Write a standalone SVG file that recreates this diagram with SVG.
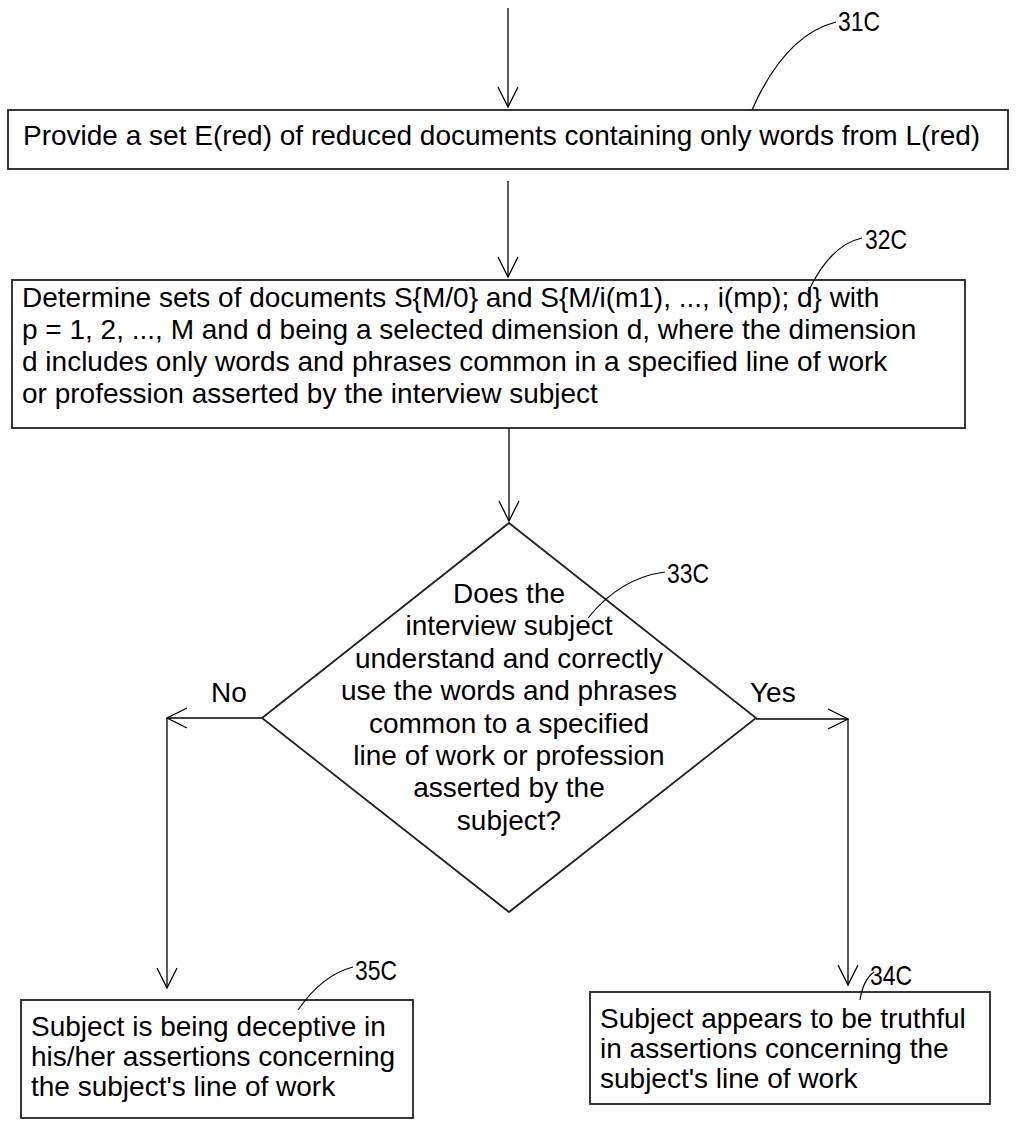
<svg xmlns="http://www.w3.org/2000/svg" width="1017" height="1121" viewBox="0 0 1017 1121">
<defs>
<style>
.box{fill:#fff;stroke:#222;stroke-width:1.8}
.t{font-family:"Liberation Sans",Arial,sans-serif;font-size:28px;fill:#000}
.c{text-anchor:middle}
.lbl{font-family:"Liberation Sans",Arial,sans-serif;font-size:28px;fill:#000}
.ln{fill:none;stroke:#000;stroke-width:1.3}
.ld{fill:none;stroke:#000;stroke-width:1.2}
</style>
<marker id="ah" markerWidth="24" markerHeight="24" viewBox="-22 -12 24 24" refX="0" refY="0" orient="auto" markerUnits="userSpaceOnUse">
<path d="M-20,-10 L0,0 L-20,10" fill="none" stroke="#000" stroke-width="1.3"/>
</marker>
</defs>
<rect width="1017" height="1121" fill="#fff"/>
<g id="connectors">
<line class="ln" x1="508" y1="8" x2="508" y2="107" marker-end="url(#ah)"/>
<line class="ln" x1="508" y1="181" x2="508" y2="277" marker-end="url(#ah)"/>
<line class="ln" x1="509" y1="428" x2="509" y2="521" marker-end="url(#ah)"/>
<line class="ln" x1="262" y1="718" x2="167" y2="718" marker-end="url(#ah)"/>
<line class="ln" x1="167" y1="718" x2="167" y2="988" marker-end="url(#ah)"/>
<line class="ln" x1="756" y1="719" x2="848" y2="719" marker-end="url(#ah)"/>
<line class="ln" x1="848" y1="719" x2="848" y2="985" marker-end="url(#ah)"/>
<text class="t" x="211" y="702">No</text>
<text class="t" x="750" y="702">Yes</text>
</g>
<g id="n31C">
<rect class="box" x="8" y="110" width="1000" height="59"/>
<text class="t" x="23" y="145">Provide a set E(red) of reduced documents containing only words from L(red)</text>
<path class="ld" d="M752,110 Q785,35 836,22"/>
<text class="lbl" x="838" y="31" textLength="42" lengthAdjust="spacingAndGlyphs">31C</text>
</g>
<g id="n32C">
<rect class="box" x="12" y="280" width="953" height="148"/>
<text class="t" x="22" y="307">Determine sets of documents S{M/0} and S{M/i(m1), ..., i(mp); d} with</text>
<text class="t" x="22" y="339">p = 1, 2, ..., M and d being a selected dimension d, where the dimension</text>
<text class="t" x="22" y="371">d includes only words and phrases common in a specified line of work</text>
<text class="t" x="22" y="403">or profession asserted by the interview subject</text>
<path class="ld" d="M808,292 Q830,245 862,238"/>
<text class="lbl" x="865" y="249" textLength="42" lengthAdjust="spacingAndGlyphs">32C</text>
</g>
<g id="n33C">
<polygon class="box" points="509,523 756,718 509,912 262,718"/>
<text class="t c" x="509" y="603">Does the</text>
<text class="t c" x="509" y="635">interview subject</text>
<text class="t c" x="509" y="668">understand and correctly</text>
<text class="t c" x="509" y="700">use the words and phrases</text>
<text class="t c" x="509" y="733">common to a specified</text>
<text class="t c" x="509" y="765">line of work or profession</text>
<text class="t c" x="509" y="797">asserted by the</text>
<text class="t c" x="509" y="830">subject?</text>
<path class="ld" d="M588,618 Q620,578 665,572"/>
<text class="lbl" x="667" y="583" textLength="42" lengthAdjust="spacingAndGlyphs">33C</text>
</g>
<g id="n35C">
<rect class="box" x="21" y="1000" width="392" height="118"/>
<text class="t" x="31" y="1036">Subject is being deceptive in</text>
<text class="t" x="31" y="1066">his/her assertions concerning</text>
<text class="t" x="31" y="1096">the subject's line of work</text>
<path class="ld" d="M298,1010 Q322,975 353,967"/>
<text class="lbl" x="355" y="980" textLength="42" lengthAdjust="spacingAndGlyphs">35C</text>
</g>
<g id="n34C">
<rect class="box" x="590" y="992" width="400" height="112"/>
<text class="t" x="600" y="1028">Subject appears to be truthful</text>
<text class="t" x="600" y="1058">in assertions concerning the</text>
<text class="t" x="600" y="1088">subject's line of work</text>
<path class="ld" d="M860,1000 Q863,980 874,972"/>
<text class="lbl" x="870" y="985" textLength="42" lengthAdjust="spacingAndGlyphs">34C</text>
</g>
</svg>
